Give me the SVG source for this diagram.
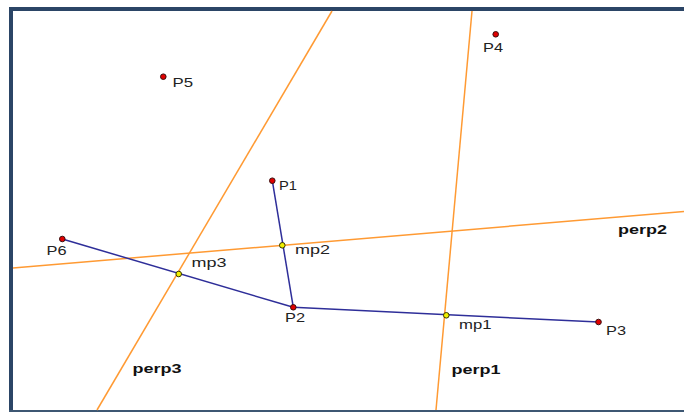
<svg xmlns="http://www.w3.org/2000/svg" width="684" height="412" viewBox="0 0 684 412">
<style>
.frame{fill:#2b4566}
.perp{stroke:#ff9a33;stroke-width:1.5;fill:none}
.seg{stroke:#2e2e99;stroke-width:1.5;fill:none}
.pt{fill:#e00000;stroke:#3a1010;stroke-width:1}
.mp{fill:#f0f000;stroke:#333300;stroke-width:1}
.lbl{font-family:"Liberation Sans",Arial,sans-serif;font-size:13px;fill:#222}
.bold{font-family:"Liberation Sans",Arial,sans-serif;font-size:13px;font-weight:bold;fill:#111}
</style>
<rect x="0" y="0" width="684" height="412" fill="#ffffff"/>
<rect class="frame" x="9" y="7" width="675" height="4"/>
<rect class="frame" x="9" y="7" width="4" height="405"/>
<rect x="9" y="410" width="675" height="2" fill="#3d5773"/>
<g id="connectors">
<line class="perp" x1="472" y1="11" x2="436" y2="410"/>
<line class="perp" x1="13" y1="267.9" x2="684" y2="211.6"/>
<line class="perp" x1="332" y1="11" x2="97" y2="410"/>
<line class="seg" x1="62.3" y1="239" x2="293.3" y2="307.3"/>
<line class="seg" x1="272.3" y1="180.7" x2="293.3" y2="307.3"/>
<line class="seg" x1="293.3" y1="307.3" x2="598.5" y2="322"/>
</g>
<g id="P1"><circle class="pt" cx="272.3" cy="180.7" r="2.8"/><text class="lbl" x="279" y="190" textLength="18" lengthAdjust="spacingAndGlyphs">P1</text></g>
<g id="P2"><circle class="pt" cx="293.3" cy="307.3" r="2.8"/><text class="lbl" x="285" y="322" textLength="20" lengthAdjust="spacingAndGlyphs">P2</text></g>
<g id="P3"><circle class="pt" cx="598.5" cy="322" r="2.8"/><text class="lbl" x="606" y="335" textLength="20" lengthAdjust="spacingAndGlyphs">P3</text></g>
<g id="P4"><circle class="pt" cx="495.7" cy="34.3" r="2.8"/><text class="lbl" x="483" y="51.5" textLength="20" lengthAdjust="spacingAndGlyphs">P4</text></g>
<g id="P5"><circle class="pt" cx="163.3" cy="76.7" r="2.8"/><text class="lbl" x="172.5" y="86.5" textLength="20.5" lengthAdjust="spacingAndGlyphs">P5</text></g>
<g id="P6"><circle class="pt" cx="62.3" cy="239" r="2.8"/><text class="lbl" x="46.5" y="255" textLength="20" lengthAdjust="spacingAndGlyphs">P6</text></g>
<g id="mp1"><circle class="mp" cx="446.3" cy="315.3" r="2.8"/><text class="lbl" x="459" y="329" textLength="32.5" lengthAdjust="spacingAndGlyphs">mp1</text></g>
<g id="mp2"><circle class="mp" cx="282.3" cy="245.3" r="2.8"/><text class="lbl" x="295" y="254" textLength="35" lengthAdjust="spacingAndGlyphs">mp2</text></g>
<g id="mp3"><circle class="mp" cx="178.7" cy="274" r="2.8"/><text class="lbl" x="191.5" y="267" textLength="35" lengthAdjust="spacingAndGlyphs">mp3</text></g>
<g id="perp1"><text class="bold" x="451.5" y="374" textLength="49" lengthAdjust="spacingAndGlyphs">perp1</text></g>
<g id="perp2"><text class="bold" x="618" y="234" textLength="49" lengthAdjust="spacingAndGlyphs">perp2</text></g>
<g id="perp3"><text class="bold" x="132.5" y="373" textLength="49" lengthAdjust="spacingAndGlyphs">perp3</text></g>
</svg>
